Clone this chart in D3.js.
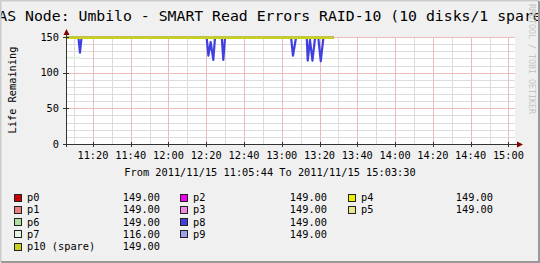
<!DOCTYPE html>
<html>
<head>
<meta charset="utf-8">
<script src="https://cdn.jsdelivr.net/npm/d3@7"></script>
<style>
  body { margin: 0; background: #f0f0f0; }
  svg { display: block; }
  text { font-family: "DejaVu Sans Mono", monospace; fill: #000; }
</style>
</head>
<body>
<script>
// ---- data ----
var title = "NAS Node: Umbilo - SMART Read Errors RAID-10 (10 disks/1 spare)";
var yLabel = "Life Remaining";
var rangeText = "From 2011/11/15 11:05:44 To 2011/11/15 15:03:30";
var day = "2011-11-15";
var startTime = "11:05:44", endTime = "15:03:30";

var seriesNames = ["p0", "p1", "p2", "p3", "p4", "p5", "p6", "p7", "p8", "p9", "p10 (spare)"];
var seriesColors = ["#cc0000", "#e88080", "#ee00ee", "#ee88e0", "#eeee00", "#e8e890",
                    "#b0e0a0", "#e6f2e6", "#4040e0", "#a0a0ee", "#c8d020"];
var lastValues = ["149.00", "149.00", "149.00", "149.00", "149.00", "149.00",
                  "149.00", "116.00", "149.00", "149.00", "149.00"];

// legend columns (index into seriesNames)
var legendCols = [[0, 1, 6, 7, 10], [2, 3, 8, 9], [4, 5]];

// flat series: all sit at 149 for the whole recorded span
var flatTimes = ["11:05:44", "13:27:20"];
var flatValues = [149, 149];

// p7 shows a faint stretch early on
var p7Times = ["11:05:44", "11:13:30"];
var p7Values = [121, 121];

// p8 dips
var p8Times = ["11:05:44", "11:12:20", "11:13:08", "11:13:56",
  "12:20:14", "12:21:08", "12:22:20", "12:23:44", "12:24:38",
  "12:28:14", "12:29:02", "12:29:56",
  "13:04:56", "13:05:56", "13:07:32",
  "13:13:14", "13:13:44", "13:14:56", "13:16:14", "13:17:38",
  "13:19:20", "13:20:38", "13:22:02", "13:27:20"];
var p8Values = [149, 149, 128, 149,
  149, 124, 143, 118, 149,
  149, 118, 149,
  149, 124, 149,
  149, 117, 146, 117, 149,
  149, 116, 149, 149];

var yTicks = [0, 50, 100, 150];

// ---- layout ----
var W = 540, H = 263;
var plot = { left: 66, right: 515, top: 37, bottom: 144 };

var parse = d3.timeParse("%Y-%m-%d %H:%M:%S");
function t(s) { return parse(day + " " + s); }

var x = d3.scaleTime().domain([t(startTime), t(endTime)]).range([plot.left, plot.right]);
var y = d3.scaleLinear().domain([0, 150]).range([plot.bottom, plot.top]);

var svg = d3.select("body").append("svg").attr("width", W).attr("height", H);

svg.append("rect").attr("width", W).attr("height", H).attr("fill", "#f0f0f0");

// title (wider than the canvas, so it gets cut at both sides)
svg.append("text").attr("x", W / 2).attr("y", 21).attr("text-anchor", "middle")
  .style("font-size", "14.8px").text(title);

// watermark
svg.append("text")
  .attr("transform", "translate(529,4) rotate(90)")
  .style("font-size", "8.3px").style("fill", "#c4c4c4")
  .text("RRDTOOL / TOBI OETIKER");

// frame
svg.append("path").attr("d", "M0.5," + (H - 1) + "V0.5H" + (W - 1)).attr("fill", "none")
  .attr("stroke", "#cbcbcb").attr("stroke-width", 2);
svg.append("path").attr("d", "M1," + (H - 1) + "H" + (W - 1) + "V1").attr("fill", "none")
  .attr("stroke", "#999").attr("stroke-width", 2);

// plot canvas
svg.append("rect").attr("x", plot.left).attr("y", plot.top)
  .attr("width", plot.right - plot.left).attr("height", plot.bottom - plot.top)
  .attr("fill", "#fff");

var grid = svg.append("g").attr("shape-rendering", "crispEdges");

// minor grid
grid.selectAll(".vmin").data(x.ticks(d3.timeMinute.every(10))).join("line")
  .attr("x1", function (d) { return Math.round(x(d)) + 0.5; })
  .attr("x2", function (d) { return Math.round(x(d)) + 0.5; })
  .attr("y1", plot.top).attr("y2", plot.bottom)
  .attr("stroke", "#dcdcdc");
grid.selectAll(".hmin").data(d3.range(10, 150, 10)).join("line")
  .attr("x1", plot.left).attr("x2", plot.right)
  .attr("y1", function (d) { return Math.round(y(d)) + 0.5; })
  .attr("y2", function (d) { return Math.round(y(d)) + 0.5; })
  .attr("stroke", "#dcdcdc");

// major grid
var majorTimes = x.ticks(d3.timeMinute.every(20));
grid.selectAll(".vmaj").data(majorTimes).join("line")
  .attr("x1", function (d) { return Math.round(x(d)) + 0.5; })
  .attr("x2", function (d) { return Math.round(x(d)) + 0.5; })
  .attr("y1", plot.top).attr("y2", plot.bottom)
  .attr("stroke", "#ecbcbc");
grid.selectAll(".hmaj").data(yTicks).join("line")
  .attr("x1", plot.left).attr("x2", plot.right)
  .attr("y1", function (d) { return Math.round(y(d)) + 0.5; })
  .attr("y2", function (d) { return Math.round(y(d)) + 0.5; })
  .attr("stroke", "#ecbcbc");

// series lines
var line = d3.line()
  .x(function (d) { return x(d[0]); })
  .y(function (d) { return y(d[1]); });

function pts(times, values) {
  return times.map(function (s, i) { return [t(s), values[i]]; });
}

seriesNames.forEach(function (name, i) {
  var data;
  if (i === 7) data = pts(p7Times, p7Values);
  else if (i === 8) data = pts(p8Times, p8Values);
  else data = pts(flatTimes, flatValues);
  svg.append("path").datum(data)
    .attr("fill", "none")
    .attr("stroke", seriesColors[i])
    .attr("stroke-width", i === 10 ? 2.8 : 2.2)
    .attr("stroke-linejoin", "round")
    .attr("d", line);
});

// axes
var axisColor = "#333";
var ax = svg.append("g").attr("shape-rendering", "crispEdges");
ax.append("line").attr("x1", plot.left - 3).attr("x2", plot.right + 3)
  .attr("y1", plot.bottom + 0.5).attr("y2", plot.bottom + 0.5).attr("stroke", axisColor);
ax.append("line").attr("x1", plot.left + 0.5).attr("x2", plot.left + 0.5)
  .attr("y1", plot.bottom + 3).attr("y2", plot.top - 4).attr("stroke", axisColor);

// ticks
ax.selectAll(".ytk").data(yTicks).join("line")
  .attr("x1", plot.left - 3).attr("x2", plot.left + 3)
  .attr("y1", function (d) { return Math.round(y(d)) + 0.5; })
  .attr("y2", function (d) { return Math.round(y(d)) + 0.5; })
  .attr("stroke", axisColor);
ax.selectAll(".xtk").data(majorTimes).join("line")
  .attr("x1", function (d) { return Math.round(x(d)) + 0.5; })
  .attr("x2", function (d) { return Math.round(x(d)) + 0.5; })
  .attr("y1", plot.bottom - 2).attr("y2", plot.bottom + 3)
  .attr("stroke", axisColor);

// arrows
svg.append("path")
  .attr("d", "M" + (plot.right + 2) + "," + (plot.bottom - 2.5) + "L" + (plot.right + 8) + "," + (plot.bottom + 0.5) +
    "L" + (plot.right + 2) + "," + (plot.bottom + 3.5) + "Z")
  .attr("fill", "#7f0000");
svg.append("path")
  .attr("d", "M" + (plot.left - 2.5) + "," + (plot.top - 2) + "L" + (plot.left + 0.5) + "," + (plot.top - 8) +
    "L" + (plot.left + 3.5) + "," + (plot.top - 2) + "Z")
  .attr("fill", "#7f0000");

// tick labels
var fmt = d3.timeFormat("%H:%M");
svg.selectAll(".xl").data(majorTimes).join("text")
  .attr("x", function (d) { return x(d); })
  .attr("y", 159)
  .attr("text-anchor", "middle")
  .style("font-size", "10.3px")
  .text(fmt);

svg.selectAll(".yl").data(yTicks).join("text")
  .attr("x", 59)
  .attr("y", function (d) { return y(d) + 3.5; })
  .attr("text-anchor", "end")
  .style("font-size", "10.3px")
  .text(function (d) { return d; });

svg.append("text")
  .attr("transform", "translate(15.5,90) rotate(-90)")
  .attr("text-anchor", "middle")
  .style("font-size", "10.3px")
  .text(yLabel);

svg.append("text").attr("x", W / 2).attr("y", 176).attr("text-anchor", "middle")
  .style("font-size", "10.3px").text(rangeText);

// legend
var colX = [14, 180, 348];
var valX = [160, 327, 493];
var rowY0 = 193.5, rowH = 12.3;
legendCols.forEach(function (col, c) {
  col.forEach(function (si, r) {
    var yy = rowY0 + r * rowH;
    svg.append("rect")
      .attr("x", colX[c] + 0.5).attr("y", yy + 0.5)
      .attr("width", 7).attr("height", 7)
      .attr("fill", seriesColors[si])
      .attr("stroke", "#222")
      .attr("shape-rendering", "crispEdges");
    svg.append("text").attr("x", colX[c] + 13).attr("y", yy + 7.5)
      .style("font-size", "10.3px").text(seriesNames[si]);
    svg.append("text").attr("x", valX[c]).attr("y", yy + 7.5)
      .attr("text-anchor", "end")
      .style("font-size", "10.3px").text(lastValues[si]);
  });
});
</script>
</body>
</html>
